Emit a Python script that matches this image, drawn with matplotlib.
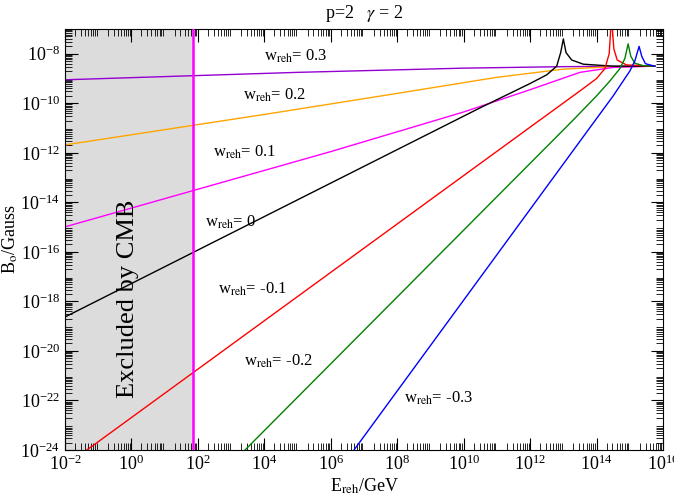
import matplotlib
matplotlib.use("Agg")
import matplotlib.pyplot as plt
import numpy as np

plt.rcParams["font.family"] = "Liberation Serif"
plt.rcParams["mathtext.fontset"] = "stix"

# log10(E/GeV) and log10(B/Gauss)
w03_x = [-2, 5, 10, 13, 15.75]
w03_y = [-9.05, -8.75, -8.58, -8.52, -8.5]
w02_x = [-2, 4, 8, 11, 13, 14.5, 15.75]
w02_y = [-11.68, -10.45, -9.6, -8.95, -8.62, -8.52, -8.5]
w01_x = [-2, 6, 10, 12, 13.5, 14.5, 15.75]
w01_y = [-14.99, -11.95, -10.35, -9.45, -8.75, -8.55, -8.5]
w00_x = [-2, 10.5, 12.0, 12.5, 12.8, 12.92, 13.0, 13.08, 13.25, 13.6, 14.5, 15.75]
w00_y = [-18.63, -10.18, -9.2, -8.85, -8.5, -7.95, -7.4, -7.95, -8.25, -8.42, -8.5, -8.5]
wm01_x = [-1.34, 12.3, 13.5, 14.0, 14.25, 14.38, 14.45, 14.52, 14.62, 14.9, 15.75]
wm01_y = [-24, -10.67, -9.5, -9.0, -8.6, -8.0, -6.5, -7.8, -8.25, -8.45, -8.5]
wm02_x = [3.42, 13.3, 14.0, 14.4, 14.7, 14.85, 14.95, 15.03, 15.15, 15.4, 15.75]
wm02_y = [-24, -10.67, -9.7, -9.1, -8.6, -8.2, -7.6, -8.1, -8.38, -8.48, -8.5]
wm03_x = [6.7, 13.97, 14.5, 14.8, 15.0, 15.15, 15.28, 15.36, 15.47, 15.75]
wm03_y = [-24, -10.67, -9.7, -9.1, -8.7, -8.3, -7.7, -8.1, -8.4, -8.5]

series = [
    (w03_x, w03_y, "#9400d3"),
    (w02_x, w02_y, "orange"),
    (w01_x, w01_y, "magenta"),
    (w00_x, w00_y, "black"),
    (wm01_x, wm01_y, "red"),
    (wm02_x, wm02_y, "green"),
    (wm03_x, wm03_y, "blue"),
]

labels = ["0.3", "0.2", "0.1", "0", "-0.1", "-0.2", "-0.3"]
label_pos = [(1e4, 10 ** -8.1), (10 ** 3.36, 10 ** -9.66), (10 ** 2.46, 10 ** -11.96),
             (10 ** 2.2, 10 ** -14.8), (10 ** 2.6, 10 ** -17.5), (10 ** 3.4, 10 ** -20.4),
             (10 ** 8.2, 10 ** -21.9)]

cmb_cut = 70  # GeV

fig = plt.figure(figsize=(6.74, 5.03), dpi=100)
ax = fig.add_axes([0.0964, 0.1054, 0.8873, 0.8369])

ax.axvspan(1e-2, cmb_cut, color="#dcdcdc", zorder=0)
ax.axvline(cmb_cut, color="magenta", lw=1.8, zorder=3)

for xs, ys, c in series:
    ax.plot(10.0 ** np.array(xs), 10.0 ** np.array(ys), color=c, lw=1)

for lab, (px, py) in zip(labels, label_pos):
    ax.text(px, py, r"w$_{\rm reh}$= " + lab, fontsize=12, va="center")

ax.text(0.8, 10 ** -17.9, "Excluded by CMB", rotation=90, fontsize=19, ha="center", va="center")

ax.set_xscale("log")
ax.set_yscale("log")
ax.set_xlim(1e-2, 1e16)
ax.set_ylim(1e-24, 1e-7)
ax.set_xticks([10.0 ** k for k in range(-2, 17, 2)])
ax.set_yticks([10.0 ** k for k in range(-24, -7, 2)])
ax.xaxis.set_minor_locator(matplotlib.ticker.LogLocator(base=10, subs=np.arange(2, 10), numticks=30))
ax.yaxis.set_minor_locator(matplotlib.ticker.LogLocator(base=10, subs=np.arange(2, 10), numticks=30))
ax.xaxis.set_minor_formatter(matplotlib.ticker.NullFormatter())
ax.yaxis.set_minor_formatter(matplotlib.ticker.NullFormatter())
ax.tick_params(which="both", direction="in", top=True, right=True, labelsize=13)
ax.tick_params(which="major", length=9)
ax.tick_params(which="minor", length=5)

ax.set_xlabel(r"E$_{\rm reh}$/GeV", fontsize=13, labelpad=2)
ax.set_ylabel(r"B$_{\rm o}$/Gauss", fontsize=13, labelpad=0)
ax.set_title(r"p=2   $\gamma$ = 2", fontsize=13, pad=8)

fig.savefig("out.png", dpi=100)
